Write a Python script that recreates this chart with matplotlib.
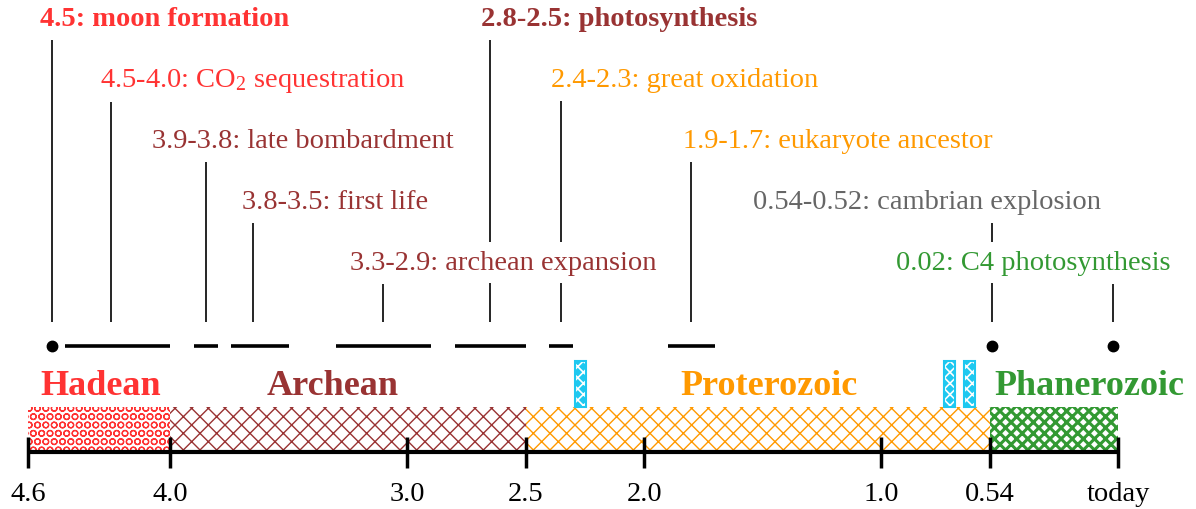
import matplotlib
matplotlib.use("Agg")
import matplotlib.pyplot as plt
from matplotlib.patches import Rectangle

plt.rcParams['font.family'] = ['Liberation Serif', 'DejaVu Serif']
plt.rcParams['mathtext.fontset'] = 'custom'
plt.rcParams['mathtext.rm'] = 'Liberation Serif'
plt.rcParams['mathtext.it'] = 'Liberation Serif:italic'
plt.rcParams['mathtext.bf'] = 'Liberation Serif:bold'

# ---------------- data ----------------
event_start = [4.5, 4.5, 3.9, 3.8, 3.3, 2.8, 2.4, 1.9, 0.54, 0.02]
event_end = [4.5, 4.0, 3.8, 3.5, 2.9, 2.5, 2.3, 1.7, 0.52, 0.02]
event_labels = ["4.5: moon formation",
                "4.5-4.0: CO$_\\mathrm{2}$ sequestration",
                "3.9-3.8: late bombardment",
                "3.8-3.5: first life",
                "3.3-2.9: archean expansion",
                "2.8-2.5: photosynthesis",
                "2.4-2.3: great oxidation",
                "1.9-1.7: eukaryote ancestor",
                "0.54-0.52: cambrian explosion",
                "0.02: C4 photosynthesis"]
event_bold = [True, False, False, False, False, True, False, False, False, False]
event_colors = ["#ff3333", "#ff3333", "#993333", "#993333", "#993333",
                "#993333", "#ff9900", "#ff9900", "#666666", "#339933"]

eon_names = ["Hadean", "Archean", "Proterozoic", "Phanerozoic"]
eon_start = [4.6, 4.0, 2.5, 0.54]
eon_end = [4.0, 2.5, 0.54, 0.0]
eon_colors = ["#ff3333", "#993333", "#ff9900", "#339933"]

glaciation_start = [2.29, 0.735, 0.65]
glaciation_end = [2.245, 0.69, 0.605]

tick_values = [4.6, 4.0, 3.0, 2.5, 2.0, 1.0, 0.54, 0.0]
tick_labels = ["4.6", "4.0", "3.0", "2.5", "2.0", "1.0", "0.54", "today"]

# ---------------- layout (not data) ----------------
event_level = [0, 1, 2, 3, 4, 0, 1, 2, 3, 4]
event_label_x = [4.549, 4.296, 4.077, 3.697, 3.241, 2.688, 2.393, 1.836, 1.540, 0.937]
eon_label_x = [4.549, 3.595, 1.845, 0.523]
eon_hatches = ["OO", "xx", "xx", "xxx"]
eon_hatch_lw = [0.9, 1.0, 1.0, 2.2]

W, H = 1196, 510
fig = plt.figure(figsize=(W / 100, H / 100), dpi=100)
ax = fig.add_axes([0, 0, 1, 1])
px_per_ga = (1118 - 28) / 4.6
ax.set_xlim(4.6 + 28 / px_per_ga, 0 - (W - 1118) / px_per_ga)
ax.set_ylim(H, 0)
ax.axis('off')

FS = 20.5
line_y = 347
vline_bottom = 323

def baseline(level):
    return 26 + 61 * level

# events
for i in range(len(event_start)):
    s, e = event_start[i], event_end[i]
    mid = (s + e) / 2
    lvl = event_level[i]
    ax.plot([mid, mid], [vline_bottom, baseline(lvl) + 15], color='black',
            lw=1.2, zorder=1, solid_capstyle='butt')
    if s - e < 0.05:
        ax.plot([mid], [line_y], 'o', color='black', ms=7.5, zorder=2)
    else:
        s_draw = s
        for j in range(i):
            if abs(event_end[j] - s) < 1e-9:
                s_draw = s - 0.055
        ax.plot([s_draw, e], [line_y, line_y], color='black', lw=2.6,
                zorder=2, solid_capstyle='butt')
    ax.text(event_label_x[i], baseline(lvl), event_labels[i], fontsize=FS,
            color=event_colors[i], fontweight='bold' if event_bold[i] else 'normal',
            ha='left', va='baseline', zorder=3,
            bbox=dict(facecolor='white', edgecolor='none', pad=5.5))

# eon bars
bar_top, bar_bottom = 408, 453
for i in range(len(eon_names)):
    r = Rectangle((eon_start[i], bar_top), eon_end[i] - eon_start[i],
                  bar_bottom - bar_top, facecolor='white',
                  edgecolor=eon_colors[i], hatch=eon_hatches[i], lw=0, zorder=1)
    try:
        r.set_hatch_linewidth(eon_hatch_lw[i])
    except AttributeError:
        pass
    ax.add_patch(r)
    ax.text(eon_label_x[i], 395, eon_names[i], fontsize=26, fontweight='bold',
            color=eon_colors[i], ha='left', va='baseline')

# glaciations
for s, e in zip(glaciation_start, glaciation_end):
    g = Rectangle((s, 362), e - s, 46, facecolor='#1ec8f0',
                  edgecolor='white', hatch='xxx', lw=0, zorder=2)
    try:
        g.set_hatch_linewidth(1.2)
    except AttributeError:
        pass
    ax.add_patch(g)
    ax.add_patch(Rectangle((s, 362), e - s, 46, fill=False,
                           edgecolor='#1ec8f0', lw=1.5, zorder=3))

# axis
ax.plot([tick_values[0], tick_values[-1]], [bar_bottom, bar_bottom],
        color='black', lw=3, zorder=4, solid_capstyle='butt')
for v, lab in zip(tick_values, tick_labels):
    ax.plot([v, v], [438, 469], color='black', lw=2.5, zorder=4,
            solid_capstyle='butt')
    ax.text(v, 501, lab, fontsize=FS, ha='center', va='baseline', color='black')

fig.savefig("out.png", dpi=100)
